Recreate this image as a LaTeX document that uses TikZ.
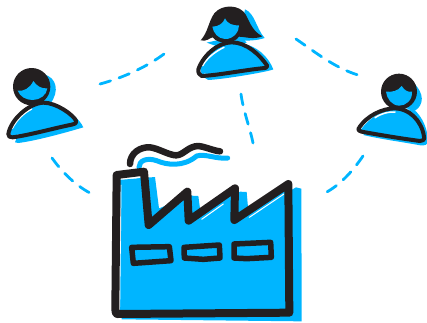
\documentclass[tikz,border=0pt]{standalone}
\definecolor{skyb}{HTML}{00B5FF}
\definecolor{ink}{HTML}{231F20}
\tikzset{
 blue fill/.style={fill=skyb,draw=none},
 inkline/.style={draw=ink,line width=#1,line join=round,line cap=round},
 smokeblue/.style={draw=skyb,line width=5pt,line cap=round,line join=round},
 linkdash/.style={draw=skyb,line width=2.8pt,line cap=round,dash pattern=on 11pt off 9pt},
 sliver/.style={draw=white,line width=1pt,line cap=round}
}
\begin{document}
\begin{tikzpicture}[x=1pt,y=-1pt]
\useasboundingbox (0,0) rectangle (427,322);
% connectors
\coordinate (a1) at (100,84); \coordinate (a2) at (164,54);
\coordinate (b1) at (52,158); \coordinate (b2) at (90,193);
\coordinate (c1) at (241,94); \coordinate (c2) at (253,143);
\coordinate (d1) at (296,39); \coordinate (d2) at (358,75);
\coordinate (e1) at (363,156); \coordinate (e2) at (325,193);
\draw[linkdash] (a1) .. controls (122,78) and (145,68) .. (a2);
\draw[linkdash] (b1) .. controls (62,172) and (75,185) .. (b2);
\draw[linkdash] (c1) .. controls (243,110) and (250,128) .. (c2);
\draw[linkdash] (d1) .. controls (315,52) and (335,68) .. (d2);
\draw[linkdash] (e1) .. controls (352,172) and (340,185) .. (e2);
% factory
\begin{scope}[shift={(90,130)},scale=1/3]
\path[blue fill] (85,150) -- (195,141) -- (207,235) -- (305,197) -- (325,198) -- (332,250) -- (450,185) -- (470,186) -- (476,255) -- (618,172) -- (634,176) -- (635,574) -- (95,568) -- cycle;
\path[blue fill] (178,280) -- (292,200) -- (298,280) -- (435,190) -- (435,280) -- (590,170) -- (590,540) -- (90,540) -- (90,160) -- (165,140) -- cycle;
\draw[sliver] (93,165) -- (89,530);
\draw[sliver] (205,262) -- (262,217);
\draw[sliver] (335,268) -- (400,222);
\draw[sliver] (478,262) -- (582,192);
\draw[smokeblue] (147,112) .. controls (147,92) and (170,82) .. (200,92) .. controls (230,105) and (280,112) .. (320,78) .. controls (345,70) and (380,88) .. (413,84);
\draw[inkline=6.5pt] (120,102) .. controls (120,70) and (150,50) .. (180,52) .. controls (205,55) and (235,75) .. (258,76) .. controls (280,76) and (295,48) .. (325,48) .. controls (345,50) and (370,62) .. (390,64);
\draw[inkline=8pt] (80,135) -- (162,125) -- (176,285) -- (292,185) -- (296,272) -- (435,175) -- (433,270) -- (595,162) -- (598,548) -- (82,552) .. controls (76,552) and (76,540) .. (76,530) -- cycle;
\draw[inkline=5.5pt] (125,352) -- (238,350) -- (243,392) -- (130,400) -- cycle;
\draw[inkline=5.5pt] (282,352) -- (388,345) -- (390,384) -- (340,388) -- (283,384) -- cycle;
\draw[inkline=5.5pt] (432,342) -- (542,337) -- (544,382) -- (470,386) -- (432,384) -- cycle;
\end{scope}
% top person
\begin{scope}[shift={(190,0)},scale=1/3]
\path[blue fill] (45,234) .. controls (55,190) and (85,160) .. (150,130) .. controls (200,135) and (235,170) .. (250,208) .. controls (240,214) and (110,237) .. (55,240) -- cycle;
\path[blue fill] (150,120) .. controls (160,80) and (160,50) .. (165,28) .. controls (195,40) and (198,85) .. (224,114) .. controls (200,122) and (175,122) .. (150,122) -- cycle;
\path[blue fill] (50,128) -- (150,105) -- (170,128) -- (90,142) -- cycle;
\path[fill=ink] (32,121) .. controls (55,95) and (55,65) .. (73,40) .. controls (95,12) and (150,12) .. (168,45) .. controls (180,70) and (190,95) .. (217,109) .. controls (190,120) and (165,110) .. (147,110) .. controls (132,133) and (82,133) .. (68,112) .. controls (58,114) and (50,126) .. (32,121) -- cycle;
\path[blue fill] (67,80) .. controls (85,80) and (100,70) .. (105,55) .. controls (110,70) and (130,78) .. (147,76) .. controls (148,95) and (130,118) .. (105,117) .. controls (85,116) and (70,100) .. (67,80) -- cycle;
\path[blue fill] (30,205) .. controls (45,165) and (85,130) .. (125,130) .. controls (170,130) and (210,165) .. (228,200) -- (35,222) -- cycle;
\draw[sliver,line width=1.5pt] (38,197) .. controls (50,175) and (75,155) .. (102,142);
\draw[inkline=4pt] (25,208) .. controls (40,165) and (85,127) .. (125,127) .. controls (170,127) and (210,165) .. (232,198) .. controls (232,204) and (225,204) .. (215,205) .. controls (150,212) and (90,225) .. (35,228) .. controls (28,225) and (24,218) .. (25,208) -- cycle;
\end{scope}
% left person
\begin{scope}[shift={(0,60)},scale=1/3]
\path[blue fill] (45,247) .. controls (60,200) and (110,160) .. (170,140) .. controls (210,150) and (240,180) .. (250,202) .. controls (200,217) and (110,242) .. (55,249) -- cycle;
\path[blue fill] (130,43) .. controls (170,50) and (180,95) .. (150,132) -- (110,120) -- cycle;
\path[fill=ink] (95,80) circle[radius=56];
\path[blue fill] (53,92) .. controls (70,95) and (90,85) .. (100,63) .. controls (110,78) and (125,87) .. (142,85) .. controls (140,105) and (120,120) .. (98,120) .. controls (78,120) and (60,110) .. (53,92) -- cycle;
\path[blue fill] (30,220) .. controls (40,180) and (85,133) .. (130,130) .. controls (170,130) and (215,165) .. (225,185) -- (35,228) -- cycle;
\draw[sliver,line width=1.5pt] (37,205) .. controls (50,180) and (70,160) .. (95,147);
\draw[inkline=4pt] (25,222) .. controls (32,180) and (85,130) .. (130,128) .. controls (170,128) and (220,165) .. (228,182) .. controls (230,192) and (222,192) .. (215,194) .. controls (160,205) and (90,225) .. (38,232) .. controls (30,232) and (24,230) .. (25,222) -- cycle;
\end{scope}
% right person
\begin{scope}[shift={(350,65)},scale=1/3]
\path[blue fill] (40,210) .. controls (70,160) and (130,135) .. (190,132) .. controls (218,155) and (235,195) .. (234,234) .. controls (225,244) and (215,242) .. (200,239) .. controls (150,230) and (90,222) .. (40,210) -- cycle;
\path[blue fill] (190,53) .. controls (224,85) and (222,120) .. (195,137) -- (150,125) -- cycle;
\path[fill=ink] (147,80) circle[radius=54];
\path[blue fill] (108,80) .. controls (125,82) and (145,78) .. (155,63) .. controls (165,78) and (175,82) .. (186,80) .. controls (188,105) and (168,122) .. (148,122) .. controls (125,122) and (110,100) .. (108,80) -- cycle;
\path[blue fill] (32,195) .. controls (60,155) and (100,135) .. (135,133) .. controls (170,133) and (205,165) .. (218,222) -- cycle;
\draw[sliver,line width=1.5pt] (75,158) .. controls (95,145) and (115,140) .. (135,141);
\draw[inkline=4pt] (25,192) .. controls (50,150) and (100,130) .. (135,130) .. controls (175,130) and (215,165) .. (222,215) .. controls (224,225) and (218,228) .. (210,228) .. controls (150,220) and (90,210) .. (35,200) .. controls (28,198) and (24,196) .. (25,192) -- cycle;
\end{scope}
\end{tikzpicture}
\end{document}
